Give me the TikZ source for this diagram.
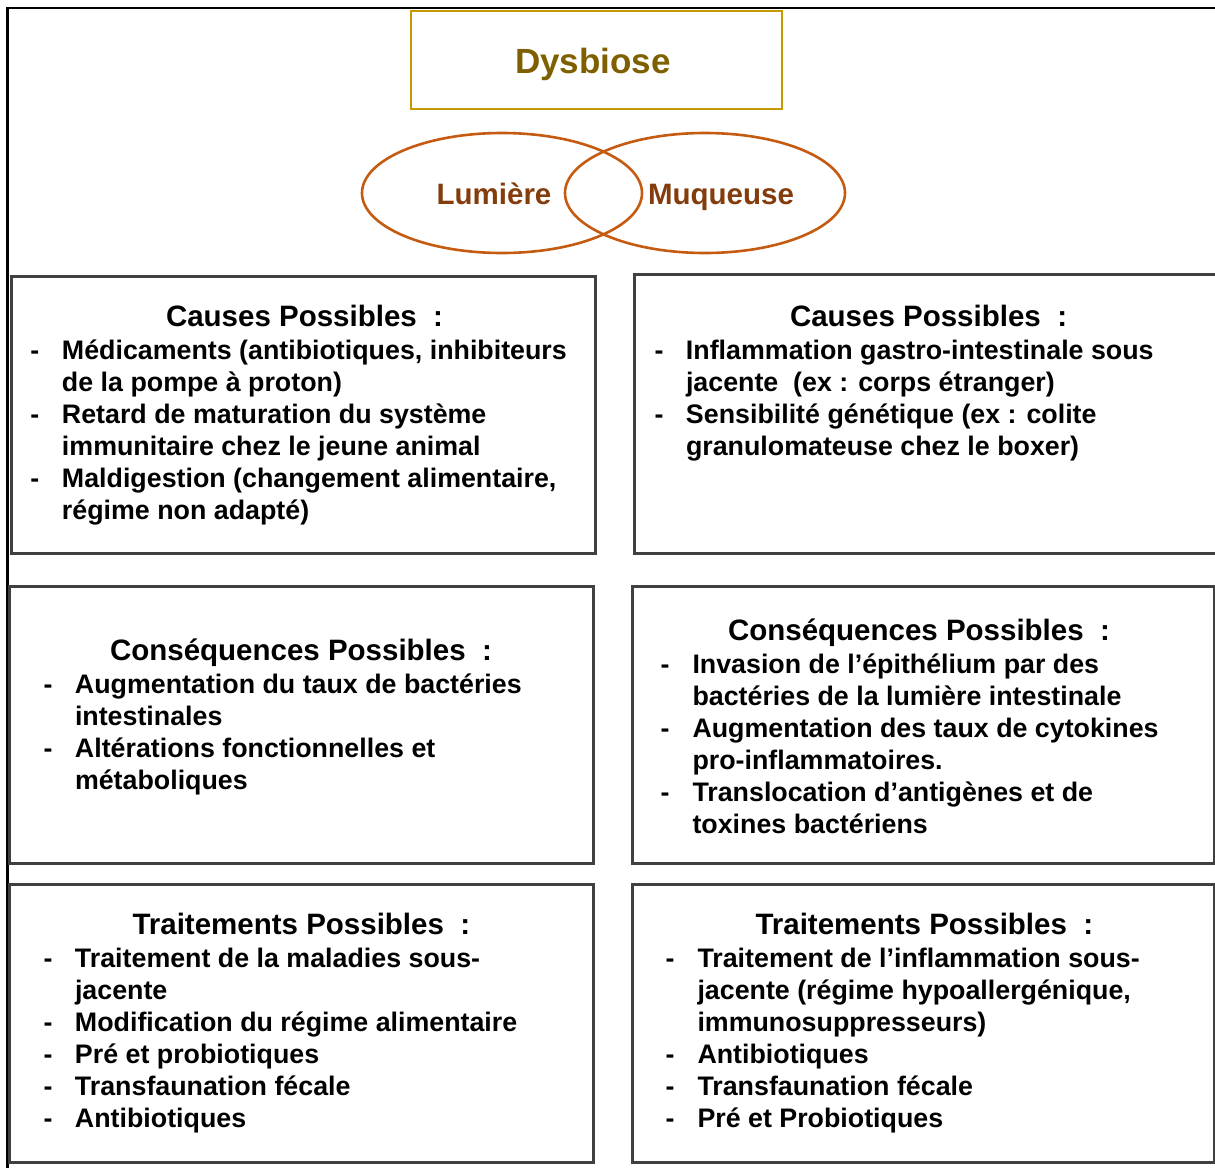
\documentclass[tikz,border=0pt]{standalone}
\usepackage{fontspec}
\setmainfont{Liberation Sans}
\definecolor{boxgray}{HTML}{404040}
\definecolor{goldline}{HTML}{C49A00}
\definecolor{goldtext}{HTML}{7F6000}
\definecolor{ovline}{HTML}{C55A11}
\definecolor{ovtext}{HTML}{843C0C}
\newcommand\dashlist[2]{\begin{tabular}[t]{@{}p{#1}@{}l@{}}#2\end{tabular}}
\tikzset{
  every node/.style={inner sep=0pt, outer sep=0pt},
  panel/.style={draw=boxgray, line width=3pt, rectangle},
  ttl/.style={anchor=base west, font=\fontsize{29.5}{35}\selectfont\bfseries},
  lst/.style={anchor=base west, align=left, font=\fontsize{26.8}{32}\selectfont\bfseries},
  oval/.style={draw=ovline, line width=2.6pt, ellipse, minimum width=280pt, minimum height=120pt},
  ovlabel/.style={anchor=base, text=ovtext, font=\fontsize{29.5}{35}\selectfont\bfseries},
}
\usetikzlibrary{shapes.geometric}
\begin{document}
\begin{tikzpicture}[x=1pt,y=-1pt]
\useasboundingbox (0,0) rectangle (1215,1167);
% outer frame (partly cut)
\draw[black, line width=2.2pt] (7.5,1175) -- (7.5,8) -- (1225,8);

% title
\node[draw=goldline, line width=2.6pt, minimum width=371pt, minimum height=98pt] (dys) at (596.5,60) {};
\node[anchor=base, text=goldtext, font=\fontsize{35}{42}\selectfont\bfseries] (dyst) at (593,73) {Dysbiose};

% ellipses
\node[oval] (lum) at (502,193) {};
\node[oval] (muq) at (705,193) {};
\node[ovlabel] (lumt) at (494,204) {Lumière};
\node[ovlabel] (muqt) at (721,204) {Muqueuse};

% panels
\node[panel, minimum width=584pt, minimum height=277pt] (c1) at (303,414.5) {};
\node[panel, minimum width=600pt, minimum height=279pt] (c2) at (934,413.5) {};
\node[panel, minimum width=584pt, minimum height=277pt] (q1) at (301,724.5) {};
\node[panel, minimum width=582pt, minimum height=277pt] (q2) at (923,724.5) {};
\node[panel, minimum width=584pt, minimum height=278pt] (t1) at (301,1023) {};
\node[panel, minimum width=582pt, minimum height=278pt] (t2) at (923,1023) {};

% panel texts
\node[ttl] (c1t) at (166,326) {Causes Possibles\ \ :};
\node[lst] (c1l) at (30.5,359) {\dashlist{31.5pt}{
 -&Médicaments (antibiotiques, inhibiteurs\\
  &de la pompe à proton)\\
 -&Retard de maturation du système\\
  &immunitaire chez le jeune animal\\
 -&Maldigestion (changement alimentaire,\\
  &régime non adapté)}};

\node[ttl] (c2t) at (790,326) {Causes Possibles\ \ :};
\node[lst] (c2l) at (654.5,359) {\dashlist{31.5pt}{
 -&Inflammation gastro-intestinale sous\\
  &jacente\ \ (ex : corps étranger)\\
 -&Sensibilité génétique (ex : colite\\
  &granulomateuse chez le boxer)}};

\node[ttl] (q1t) at (110,660) {Conséquences Possibles\ \ :};
\node[lst] (q1l) at (43.5,693) {\dashlist{31.5pt}{
 -&Augmentation du taux de bactéries\\
  &intestinales\\
 -&Altérations fonctionnelles et\\
  &métaboliques}};

\node[ttl] (q2t) at (728,640) {Conséquences Possibles\ \ :};
\node[lst] (q2l) at (660.5,673) {\dashlist{32pt}{
 -&Invasion de l’épithélium par des\\
  &bactéries de la lumière intestinale\\
 -&Augmentation des taux de cytokines\\
  &pro-inflammatoires.\\
 -&Translocation d’antigènes et de\\
  &toxines bactériens}};

\node[ttl] (t1t) at (132.5,934) {Traitements Possibles\ \ :};
\node[lst] (t1l) at (43.5,967) {\dashlist{31.5pt}{
 -&Traitement de la maladies sous-\\
  &jacente\\
 -&Modification du régime alimentaire\\
 -&Pré et probiotiques\\
 -&Transfaunation fécale\\
 -&Antibiotiques}};

\node[ttl] (t2t) at (755.5,934) {Traitements Possibles\ \ :};
\node[lst] (t2l) at (665.5,967) {\dashlist{32pt}{
 -&Traitement de l’inflammation sous-\\
  &jacente (régime hypoallergénique,\\
  &immunosuppresseurs)\\
 -&Antibiotiques\\
 -&Transfaunation fécale\\
 -&Pré et Probiotiques}};
\end{tikzpicture}
\end{document}
